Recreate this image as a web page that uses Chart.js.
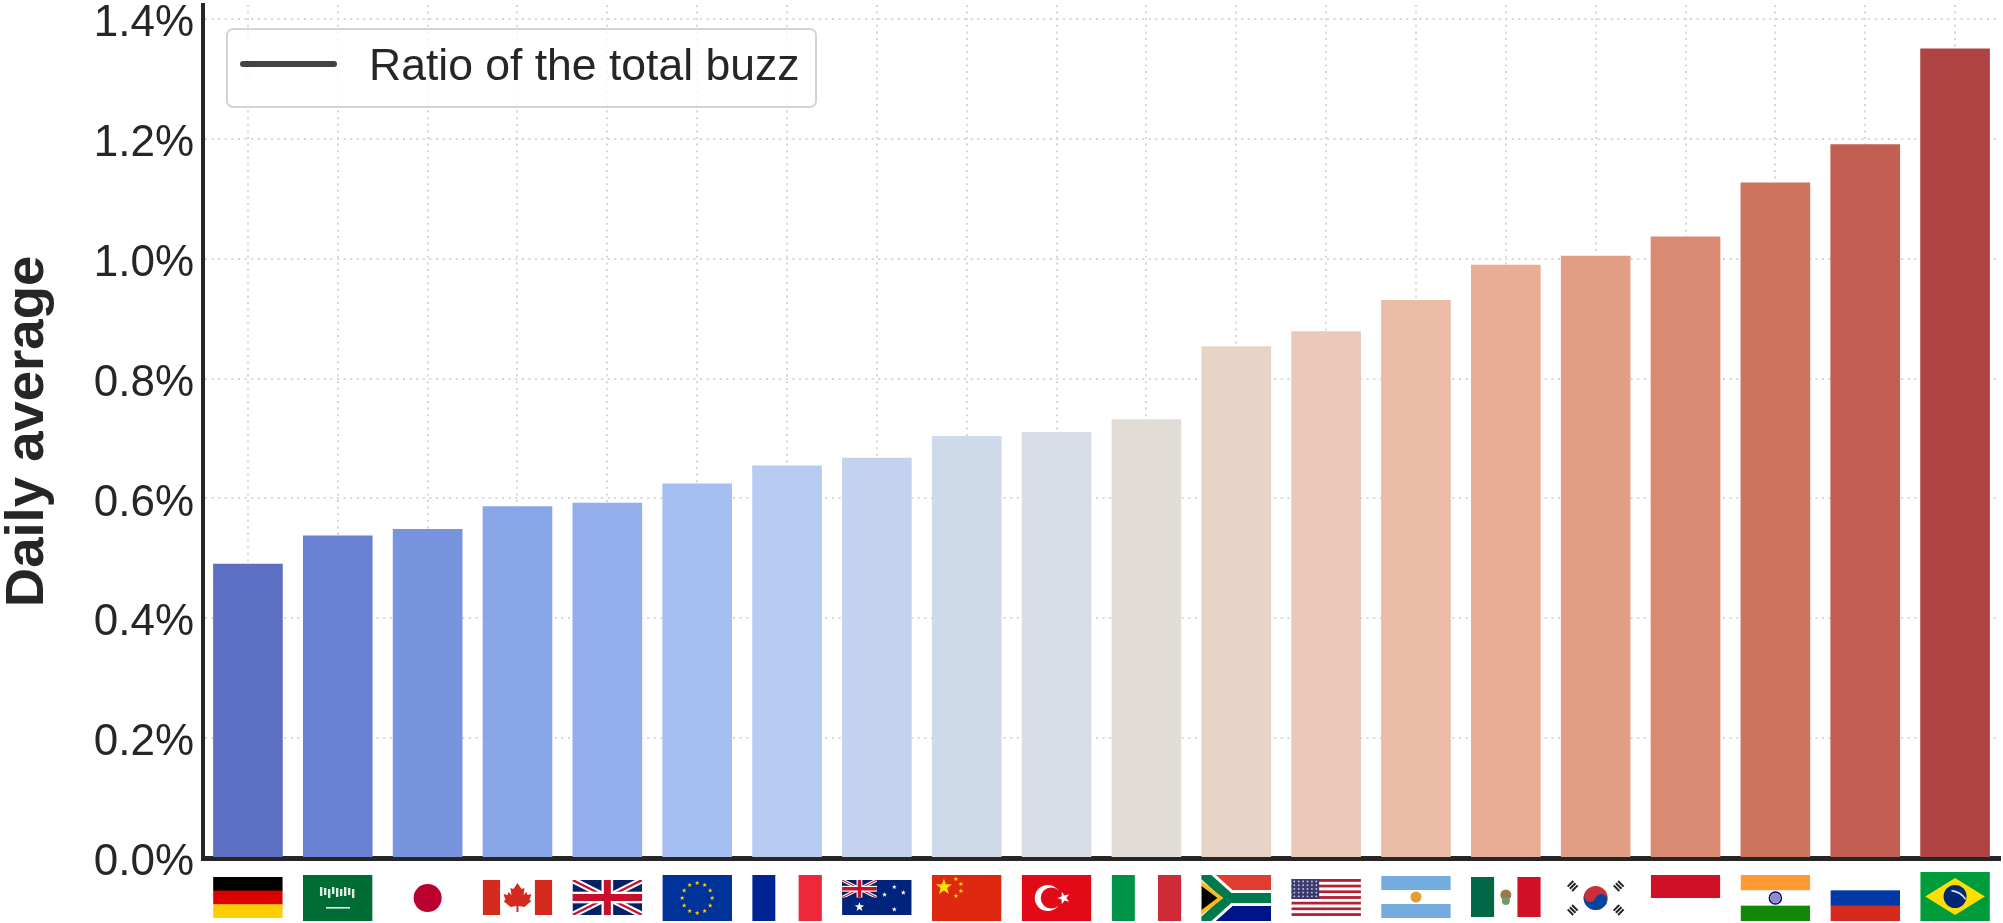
<!DOCTYPE html>
<html>
<head>
<meta charset="utf-8">
<style>
  html, body { margin: 0; padding: 0; background: #fff; }
  canvas { display: block; }
</style>
<script src="https://cdn.jsdelivr.net/npm/chart.js@4/dist/chart.umd.min.js"></script>
</head>
<body>
<canvas id="chart" width="2003" height="923"></canvas>
<script>
const countries = ['Germany', 'Saudi Arabia', 'Japan', 'Canada', 'United Kingdom', 'European Union', 'France',
  'Australia', 'China', 'Turkey', 'Italy', 'South Africa', 'United States', 'Argentina', 'Mexico',
  'South Korea', 'Indonesia', 'India', 'Russia', 'Brazil'];
const flagCodes = ['de', 'sa', 'jp', 'ca', 'gb', 'eu', 'fr', 'au', 'cn', 'tr', 'it', 'za', 'us', 'ar', 'mx', 'kr', 'id', 'in', 'ru', 'br'];
const dailyAverage = [0.491, 0.538, 0.549, 0.587, 0.593, 0.625, 0.655, 0.668, 0.704, 0.711,
  0.732, 0.854, 0.879, 0.931, 0.990, 1.005, 1.037, 1.127, 1.191, 1.351];
const barColors = ['#5c6fc3', '#6a80d2', '#7894de', '#88a5e8', '#94aeec', '#a6bff2', '#b7caf2', '#c3d3ee', '#ced9e9', '#d8dce4',
  '#e2dcd6', '#e8d3c7', '#eac9b9', '#ebbca5', '#e9ac94', '#e29d85', '#da8a72', '#cd745f', '#c25f52', '#b04444'];
const seriesLabel = 'Ratio of the total buzz';
const axisTitle = 'Daily average';

const FONT = '"Liberation Sans", Arial, sans-serif';
const TEXT = '#262626';

// ---- flag helpers ----
function rect(c, col, x, y, w, h) { c.fillStyle = col; c.fillRect(x, y, w, h); }

function star(c, col, x, y, r, rot = -Math.PI / 2) {
  c.fillStyle = col;
  c.beginPath();
  for (let i = 0; i < 10; i++) {
    const rr = i % 2 ? r * 0.4 : r;
    const a = rot + i * Math.PI / 5;
    c.lineTo(x + Math.cos(a) * rr, y + Math.sin(a) * rr);
  }
  c.closePath();
  c.fill();
}

function disc(c, col, x, y, r) {
  c.fillStyle = col;
  c.beginPath();
  c.arc(x, y, r, 0, Math.PI * 2);
  c.fill();
}

function vStripes(c, w, h, cols) {
  cols.forEach((col, i) => rect(c, col, i * w / cols.length, 0, w / cols.length + 0.3, h));
}

function hStripes(c, w, h, cols) {
  cols.forEach((col, i) => rect(c, col, 0, i * h / cols.length, w, h / cols.length + 0.3));
}

function unionJack(c, w, h) {
  const t = h / 12;
  rect(c, '#012169', 0, 0, w, h);
  c.save();
  c.beginPath(); c.rect(0, 0, w, h); c.clip();
  c.lineCap = 'butt';
  c.strokeStyle = '#fff'; c.lineWidth = t * 2.2;
  c.beginPath(); c.moveTo(0, 0); c.lineTo(w, h); c.moveTo(w, 0); c.lineTo(0, h); c.stroke();
  c.strokeStyle = '#c8102e'; c.lineWidth = t * 0.8;
  c.beginPath(); c.moveTo(0, 0); c.lineTo(w, h); c.moveTo(w, 0); c.lineTo(0, h); c.stroke();
  c.restore();
  rect(c, '#fff', w / 2 - t * 2, 0, t * 4, h);
  rect(c, '#fff', 0, h / 2 - t * 2, w, t * 4);
  rect(c, '#c8102e', w / 2 - t * 1.2, 0, t * 2.4, h);
  rect(c, '#c8102e', 0, h / 2 - t * 1.2, w, t * 2.4);
}

function poly(c, col, pts) {
  c.fillStyle = col;
  c.beginPath();
  pts.forEach(p => c.lineTo(p[0], p[1]));
  c.closePath();
  c.fill();
}

// each flag: top/height below the axis line, then a draw function in local coords
const flagDrawers = {
  de: [19, 41, (c, w, h) => hStripes(c, w, h, ['#000', '#dd0000', '#ffce00'])],
  sa: [17, 46, (c, w, h) => {
    rect(c, '#006c35', 0, 0, w, h);
    for (let i = 0; i < 9; i++) rect(c, '#dfeee5', 17 + i * 4, 12 + (i % 3), 2.4, 9 - (i % 2) * 2);
    rect(c, '#dfeee5', 23, 32, 24, 1.6);
  }],
  jp: [17, 46, (c, w, h) => { rect(c, '#fff', 0, 0, w, h); disc(c, '#bc002d', w / 2, h / 2, 14); }],
  ca: [22, 35, (c, w, h) => {
    rect(c, '#fff', 0, 0, w, h);
    rect(c, '#d52b1e', 0, 0, w / 4, h);
    rect(c, '#d52b1e', w * 3 / 4, 0, w / 4, h);
    const m = w / 2;
    poly(c, '#d52b1e', [[m, 3], [m + 4, 9], [m + 7, 8], [m + 6, 15], [m + 9, 12], [m + 10, 15], [m + 14, 14], [m + 12, 20],
      [m + 14, 21], [m + 7, 27], [m + 1, 26], [m + 1, 32], [m - 1, 32], [m - 1, 26], [m - 7, 27], [m - 14, 21], [m - 12, 20],
      [m - 14, 14], [m - 10, 15], [m - 9, 12], [m - 6, 15], [m - 7, 8], [m - 4, 9]]);
  }],
  gb: [22, 35, unionJack],
  eu: [17, 46, (c, w, h) => {
    rect(c, '#003399', 0, 0, w, h);
    for (let i = 0; i < 12; i++) {
      const a = i * Math.PI / 6;
      star(c, '#ffcc00', w / 2 + Math.cos(a) * 15, h / 2 + Math.sin(a) * 15, 2.6);
    }
  }],
  fr: [17, 46, (c, w, h) => vStripes(c, w, h, ['#002395', '#fff', '#ed2939'])],
  au: [22, 35, (c, w, h) => {
    rect(c, '#00247d', 0, 0, w, h);
    unionJack(c, w / 2, h / 2);
    star(c, '#fff', w / 4, h * 0.77, 5);
    star(c, '#fff', w * 0.75, h * 0.84, 2.6);
    star(c, '#fff', w * 0.75, h * 0.2, 2.6);
    star(c, '#fff', w * 0.61, h * 0.42, 2.6);
    star(c, '#fff', w * 0.88, h * 0.36, 2.6);
  }],
  cn: [17, 46, (c, w, h) => {
    rect(c, '#de2910', 0, 0, w, h);
    star(c, '#ffde00', 12, 12, 8.5);
    star(c, '#ffde00', 24, 4, 2.6);
    star(c, '#ffde00', 29, 9, 2.6);
    star(c, '#ffde00', 29, 16, 2.6);
    star(c, '#ffde00', 24, 21, 2.6);
  }],
  tr: [17, 46, (c, w, h) => {
    rect(c, '#e30a17', 0, 0, w, h);
    disc(c, '#fff', 26, h / 2, 13);
    disc(c, '#e30a17', 29.5, h / 2, 10.5);
    star(c, '#fff', 42, h / 2, 6.5, Math.PI);
  }],
  it: [17, 46, (c, w, h) => vStripes(c, w, h, ['#009246', '#fff', '#ce2b37'])],
  za: [17, 46, (c, w, h) => {
    rect(c, '#e03c31', 0, 0, w, h / 2);
    rect(c, '#001489', 0, h / 2, w, h / 2);
    c.save();
    c.strokeStyle = '#fff'; c.lineWidth = 16;
    c.beginPath(); c.moveTo(-2, -4); c.lineTo(28, h / 2); c.lineTo(-2, h + 4); c.moveTo(28, h / 2); c.lineTo(w, h / 2); c.stroke();
    c.strokeStyle = '#007a4d'; c.lineWidth = 10;
    c.beginPath(); c.moveTo(-2, -4); c.lineTo(28, h / 2); c.lineTo(-2, h + 4); c.moveTo(28, h / 2); c.lineTo(w, h / 2); c.stroke();
    c.restore();
    poly(c, '#ffb81c', [[0, 6], [22, h / 2], [0, h - 6]]);
    poly(c, '#000', [[0, 11], [16, h / 2], [0, h - 11]]);
  }],
  us: [21, 37, (c, w, h) => {
    for (let i = 0; i < 13; i++) rect(c, i % 2 ? '#fff' : '#b22234', 0, i * h / 13, w, h / 13 + 0.2);
    rect(c, '#3c3b6e', 0, 0, w * 0.4, h * 7 / 13);
    for (let r = 0; r < 5; r++) for (let k = 0; k < 6; k++) disc(c, '#c9cce0', 3 + k * 4.4, 2.5 + r * 3.7, 0.9);
  }],
  ar: [18, 42, (c, w, h) => {
    hStripes(c, w, h, ['#74acdf', '#fff', '#74acdf']);
    disc(c, '#e0a030', w / 2, h / 2, 5.5);
  }],
  mx: [19, 40, (c, w, h) => {
    vStripes(c, w, h, ['#006847', '#fff', '#ce1126']);
    disc(c, '#9a7a4a', w / 2, h / 2 - 2, 5.5);
    disc(c, '#6f9a72', w / 2, h / 2 + 4, 4);
  }],
  kr: [17, 46, (c, w, h) => {
    rect(c, '#fff', 0, 0, w, h);
    const m = w / 2, n = h / 2;
    disc(c, '#cd2e3a', m, n, 12);
    c.fillStyle = '#0047a0';
    c.beginPath(); c.arc(m, n, 12, 0.35, Math.PI + 0.35); c.fill();
    disc(c, '#cd2e3a', m - 5.6, n - 2, 6);
    disc(c, '#0047a0', m + 5.6, n + 2, 6);
    c.save();
    c.strokeStyle = '#222'; c.lineWidth = 2;
    [[-23, -12, 1], [23, -12, -1], [-23, 12, -1], [23, 12, 1]].forEach(t => {
      for (let i = -1; i <= 1; i++) {
        const px = m + t[0] + i * 2.2;
        const py = n + t[1] + i * 2.2 * t[2];
        c.beginPath();
        c.moveTo(px - 2.8 * t[2], py + 2.8);
        c.lineTo(px + 2.8 * t[2], py - 2.8);
        c.stroke();
      }
    });
    c.restore();
  }],
  id: [17, 46, (c, w, h) => { rect(c, '#fff', 0, 0, w, h); rect(c, '#ce1126', 0, 0, w, h / 2); }],
  in: [17, 46, (c, w, h) => {
    hStripes(c, w, h, ['#ff9933', '#fff', '#138808']);
    c.strokeStyle = '#000080'; c.lineWidth = 1.6;
    c.beginPath(); c.arc(w / 2, h / 2, 6, 0, Math.PI * 2); c.stroke();
    disc(c, '#8c8cc6', w / 2, h / 2, 5);
  }],
  ru: [17, 46, (c, w, h) => hStripes(c, w, h, ['#fff', '#0039a6', '#d52b1e'])],
  br: [14, 49, (c, w, h) => {
    rect(c, '#009c3b', 0, 0, w, h);
    poly(c, '#ffdf00', [[w / 2, 6], [w - 5, h / 2], [w / 2, h - 6], [5, h / 2]]);
    disc(c, '#002776', w / 2, h / 2, 11.5);
    c.strokeStyle = '#dfe8f0'; c.lineWidth = 1.6;
    c.beginPath(); c.arc(w / 2 - 6, h / 2 + 14, 20, -1.45, -0.6); c.stroke();
  }]
};

const flagPlugin = {
  id: 'flagRow',
  afterDraw(chart) {
    const c = chart.ctx;
    const xs = chart.scales.x;
    const baseline = chart.chartArea.bottom;
    const w = chart.getDatasetMeta(0).data[0].width;
    flagCodes.forEach((code, i) => {
      const [top, h, draw] = flagDrawers[code];
      c.save();
      c.translate(xs.getPixelForValue(i) - w / 2, baseline + top);
      c.beginPath(); c.rect(0, 0, w, h); c.clip();
      draw(c, w, h);
      c.restore();
    });
  }
};

// legend sits inside the plot with a matplotlib style frame
const legendPlugin = {
  id: 'frameLegend',
  afterDatasetsDraw(chart) {
    const c = chart.ctx;
    const a = chart.chartArea;
    const x = a.left + 24, y = a.top + 24, w = 589, h = 78;
    c.save();
    c.beginPath();
    c.roundRect(x, y, w, h, 6);
    c.fillStyle = 'rgba(255,255,255,0.8)';
    c.fill();
    c.lineWidth = 2;
    c.strokeStyle = '#d4d4d4';
    c.stroke();
    c.strokeStyle = '#444444';
    c.lineWidth = 6;
    c.lineCap = 'round';
    c.beginPath();
    c.moveTo(x + 16, y + 35);
    c.lineTo(x + 107, y + 35);
    c.stroke();
    c.fillStyle = TEXT;
    c.font = '44.5px ' + FONT;
    c.textBaseline = 'middle';
    c.fillText(chart.data.datasets[0].label, x + 142, y + 39);
    c.restore();
  }
};

new Chart(document.getElementById('chart'), {
  type: 'bar',
  data: {
    labels: countries,
    datasets: [{
      label: seriesLabel,
      data: dailyAverage,
      backgroundColor: barColors,
      borderWidth: 0,
      barPercentage: 0.775,
      categoryPercentage: 1
    }]
  },
  plugins: [flagPlugin, legendPlugin],
  options: {
    responsive: false,
    animation: false,
    layout: { padding: { top: 5, right: 3, left: 0, bottom: 0 } },
    plugins: { legend: { display: false }, tooltip: { enabled: false } },
    scales: {
      x: {
        grid: { color: '#d6d6d6', lineWidth: 2, offset: false, drawTicks: false },
        border: { color: TEXT, width: 5, dash: [2, 4.6] },
        ticks: { display: false, autoSkip: false },
        afterFit(s) { s.height = 65; s.paddingLeft = 0; s.paddingRight = 0; }
      },
      y: {
        min: 0,
        max: 1.4234,
        grid: { color: '#d6d6d6', lineWidth: 2, drawTicks: false },
        border: { color: TEXT, width: 4, dash: [2, 4.6] },
        ticks: {
          stepSize: 0.2,
          includeBounds: false,
          padding: 9,
          labelOffset: 5,
          color: TEXT,
          font: { family: FONT, size: 44 },
          callback: v => v.toFixed(1) + '%'
        },
        title: {
          display: true,
          text: axisTitle,
          color: TEXT,
          font: { family: FONT, size: 54.5, weight: 'bold', lineHeight: 1 },
          padding: { top: 1, bottom: 0 }
        },
        afterFit(s) { s.width = 203; s.paddingTop = 0; s.paddingBottom = 0; }
      }
    }
  }
});
</script>
</body>
</html>
